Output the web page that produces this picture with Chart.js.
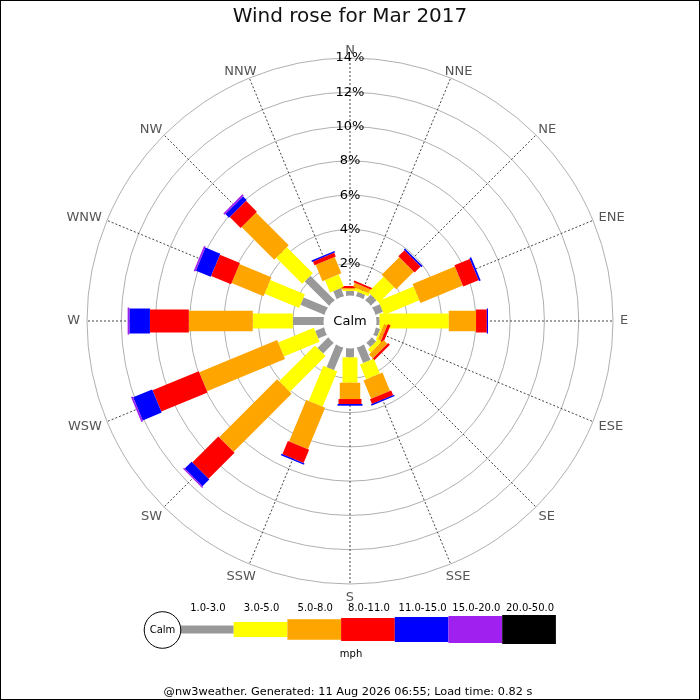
<!DOCTYPE html>
<html>
<head>
<meta charset="utf-8">
<script src="https://cdn.jsdelivr.net/npm/chart.js@4.4.1/dist/chart.umd.min.js"></script>
<style>
html,body{margin:0;padding:0;background:#fff;}
canvas{display:block;}
</style>
</head>
<body>
<canvas id="c" width="700" height="700" style="width:700px;height:700px"></canvas>
<script>
// ---- data (percent of observations per direction and speed band) ----
const directions = ['N','NNE','NE','ENE','E','ESE','SE','SSE','S','SSW','SW','WSW','W','WNW','NW','NNW'];
const speedBands = ['1.0-3.0','3.0-5.0','5.0-8.0','8.0-11.0','11.0-15.0','15.0-20.0','20.0-50.0'];
const band1to3   = [0.41,0.41,0.61,0.64,0.38,0.47,0.58,1.22,0.78,1.67,1.11,0.76,1.99,1.69,2.16,0.64];
const band3to5   = [0.09,0.17,1.26,2.22,4.04,0.10,0.24,0.94,1.48,2.22,2.96,2.25,2.34,2.18,2.15,0.78];
const band5to8   = [0.08,0.24,1.45,2.67,1.59,0.20,0.32,1.16,0.95,2.62,4.78,4.92,3.73,2.02,2.70,1.03];
const band8to11  = [0.12,0.11,0.50,0.97,0.63,0.17,0.14,0.30,0.29,0.84,2.15,2.92,2.27,1.26,0.90,0.24];
const band11to15 = [0,0,0.10,0.11,0.07,0,0,0.08,0.10,0.08,0.56,1.20,1.20,0.94,0.30,0.09];
const band15to20 = [0,0,0,0,0,0,0,0,0,0,0.08,0.11,0.10,0.11,0.11,0];
const band20to50 = [0,0,0,0,0,0,0,0,0,0,0,0,0,0,0,0];
const tickValues = [2,4,6,8,10,12,14];
const titleText = 'Wind rose for Mar 2017';
const calmLabel = 'Calm';
const unitLabel = 'mph';
const footerText = '@nw3weather. Generated: 11 Aug 2026 06:55; Load time: 0.82 s';

// ---- styles ----
const bandColors = ['#999999','#ffff00','#ffa500','#ff0000','#0000ff','#a020f0','#000000'];
const bandWidths = [8, 15, 20.5, 23, 25, 27, 29];
const FONT = '"DejaVu Sans", sans-serif';

const bandData = [band1to3, band3to5, band5to8, band8to11, band11to15, band15to20, band20to50];

const datasets = bandData.map((arr, k) => ({
  label: speedBands[k],
  data: arr,
  backgroundColor: bandColors[k],
  borderColor: bandColors[k],
  barWidth: bandWidths[k],
  showLine: false,
  fill: false,
  pointRadius: 0,
  pointHoverRadius: 0,
  pointHitRadius: 0,
  borderWidth: 0
}));

const bgPlugin = {
  id: 'bg',
  beforeDraw(chart) {
    const ctx = chart.ctx;
    ctx.save();
    ctx.fillStyle = '#ffffff';
    ctx.fillRect(0, 0, chart.width, chart.height);
    ctx.restore();
  }
};

const rosePlugin = {
  id: 'rose',
  afterDatasetsDraw(chart) {
    const scale = chart.scales.r;
    const ctx = chart.ctx;
    ctx.save();
    ctx.lineCap = 'butt';
    const n = chart.data.labels.length;
    for (let i = 0; i < n; i++) {
      let cum = 0;
      chart.data.datasets.forEach(ds => {
        const v = ds.data[i];
        if (!v) return;
        const p0 = scale.getPointPosition(i, scale.getDistanceFromCenterForValue(cum));
        const p1 = scale.getPointPosition(i, scale.getDistanceFromCenterForValue(cum + v));
        ctx.strokeStyle = ds.backgroundColor;
        ctx.lineWidth = ds.barWidth;
        ctx.beginPath();
        ctx.moveTo(p0.x, p0.y);
        ctx.lineTo(p1.x, p1.y);
        ctx.stroke();
        cum += v;
      });
    }
    // calm circle
    const cx = scale.xCenter, cy = scale.yCenter + 1;
    ctx.beginPath();
    ctx.arc(cx, cy, 26.5, 0, Math.PI * 2);
    ctx.fillStyle = '#ffffff';
    ctx.fill();
    ctx.fillStyle = '#000';
    ctx.font = '13px ' + FONT;
    ctx.textAlign = 'center';
    ctx.textBaseline = 'middle';
    ctx.fillText(calmLabel, cx, cy);

    // direction labels
    ctx.font = '13px ' + FONT;
    ctx.fillStyle = '#555555';
    for (let i = 0; i < n; i++) {
      const label = chart.data.labels[i];
      const ang = scale.getIndexAngle(i);
      const p = scale.getPointPosition(i, scale.drawingArea + 7);
      const w = ctx.measureText(label).width;
      const c = Math.cos(ang);
      const dy = c < -0.01 ? -c * 6.5 : 0;
      ctx.fillText(label, p.x + Math.sin(ang) * w / 2, p.y + dy);
    }
    ctx.restore();
  }
};

const legendPlugin = {
  id: 'roseLegend',
  afterDraw(chart) {
    const ctx = chart.ctx;
    ctx.save();
    const x0 = 180, segW = 53.7, cy = 629.5;
    chart.data.datasets.forEach((ds, k) => {
      const x = x0 + k * segW;
      ctx.fillStyle = ds.backgroundColor;
      ctx.fillRect(k === 0 ? 165 : x, cy - ds.barWidth / 2, k === 0 ? segW + 15 : segW, ds.barWidth);
      ctx.fillStyle = '#000';
      ctx.font = '10px ' + FONT;
      ctx.textAlign = 'center';
      ctx.textBaseline = 'middle';
      ctx.fillText(ds.label, x + segW / 2 + 1, 608);
    });
    // calm circle
    ctx.beginPath();
    ctx.arc(162.5, 630, 18.3, 0, Math.PI * 2);
    ctx.fillStyle = '#fff';
    ctx.fill();
    ctx.lineWidth = 1;
    ctx.strokeStyle = '#000';
    ctx.stroke();
    ctx.fillStyle = '#000';
    ctx.font = '10px ' + FONT;
    ctx.textAlign = 'center';
    ctx.textBaseline = 'middle';
    ctx.fillText(calmLabel, 162.5, 630);
    ctx.fillText(unitLabel, 351, 654);
    ctx.font = '11.3px ' + FONT;
    ctx.fillText(footerText, 348, 692.5);
    // frame
    ctx.strokeStyle = '#000';
    ctx.lineWidth = 1;
    ctx.strokeRect(0.5, 0.5, chart.width - 1, chart.height - 1);
    ctx.restore();
  }
};

new Chart(document.getElementById('c'), {
  type: 'radar',
  data: { labels: directions, datasets: datasets },
  options: {
    responsive: false,
    devicePixelRatio: 1,
    animation: false,
    events: [],
    layout: { padding: { left: 78.5, right: 78.5, top: 0, bottom: 107.5 } },
    plugins: {
      legend: { display: false },
      tooltip: { enabled: false },
      title: {
        display: true,
        text: titleText,
        color: '#111',
        font: { family: FONT, size: 20, weight: 'normal', lineHeight: 1.2 },
        padding: { top: 5, bottom: 20.5 }
      }
    },
    scales: {
      r: {
        min: -1.3417,
        max: 14,
        startAngle: 0,
        afterBuildTicks: (scale) => { scale.ticks = tickValues.map(v => ({ value: v })); },
        ticks: {
          display: true,
          showLabelBackdrop: false,
          backdropPadding: 2,
          color: '#000',
          font: { family: FONT, size: 13 },
          callback: (v) => v + '%'
        },
        grid: { display: true, circular: true, color: '#b0b0b0', lineWidth: 1 },
        angleLines: { display: true, color: '#444', lineWidth: 1, borderDash: [2, 2] },
        pointLabels: { display: false }
      }
    }
  },
  plugins: [bgPlugin, rosePlugin, legendPlugin]
});
</script>
</body>
</html>
